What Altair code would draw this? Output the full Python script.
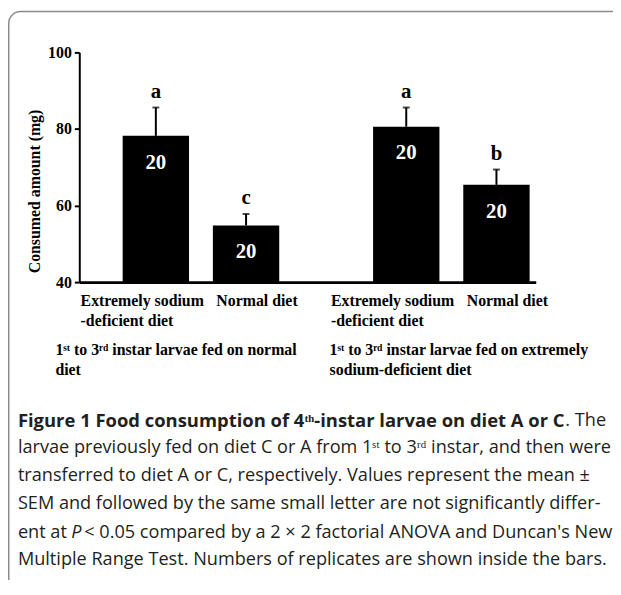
import altair as alt
import pandas as pd

# ---------------- data ----------------
groups = ["fed normal", "fed deficient"]
group_labels = [
    "1ˢᵗ to 3ʳᵈ instar larvae fed on normal\ndiet",
    "1ˢᵗ to 3ʳᵈ instar larvae fed on extremely\nsodium-deficient diet",
]
diets = ["Extremely sodium\n-deficient diet", "Normal diet"]
bar_group = ["fed normal", "fed normal", "fed deficient", "fed deficient"]
bar_diet = [diets[0], diets[1], diets[0], diets[1]]
means = [78.2, 54.8, 80.6, 65.4]
sems = [7.4, 3.0, 5.0, 4.0]
letters = ["a", "c", "a", "b"]
replicates = [20, 20, 20, 20]
y_ticks = [40, 60, 80, 100]
y_domain = [40, 100]
y_title = "Consumed amount (mg)"

caption_bold = "Figure 1 Food consumption of 4ᵗʰ-instar larvae on diet A or C"
caption_lines = [
    ". The",
    "larvae previously fed on diet C or A from 1ˢᵗ to 3ʳᵈ instar, and then were",
    "transferred to diet A or C, respectively. Values represent the mean ±",
    "SEM and followed by the same small letter are not significantly differ-",
    "ent at ",
    "P",
    "< 0.05 compared by a 2 × 2 factorial ANOVA and Duncan's New",
    "Multiple Range Test. Numbers of replicates are shown inside the bars.",
]

bars = pd.DataFrame({
    "group": bar_group,
    "diet": bar_diet,
    "mean": means,
    "sem": sems,
    "letter": letters,
    "n": replicates,
})
bars["upper"] = bars["mean"] + bars["sem"]
glab = pd.DataFrame({"group": groups, "label": group_labels})

SERIF = "Liberation Serif"
SANS = "Open Sans"

xscale = alt.Scale(domain=groups, paddingInner=0.3748, paddingOuter=0.0989, align=0.876)
offscale = alt.Scale(domain=diets, paddingInner=0.2645, paddingOuter=0)
X = alt.X("group:N", scale=xscale,
          axis=alt.Axis(labels=False, ticks=False, title=None,
                        domainWidth=3, domainColor="black"))
XO = alt.XOffset("diet:N", scale=offscale)
yscale = alt.Scale(domain=y_domain, nice=False, zero=False)
Y = alt.Y("mean:Q", scale=yscale,
          axis=alt.Axis(values=y_ticks, title=y_title, grid=False,
                        domainColor="black", domainWidth=2,
                        tickColor="black", tickWidth=2, tickSize=5,
                        labelPadding=3, labelFont=SERIF, labelFontSize=16,
                        labelFontWeight="bold", labelColor="black",
                        titleFont=SERIF, titleFontSize=16, titleFontWeight="bold",
                        titleColor="black", titleX=-45, titleY=140,
                        titleAngle=270, titleAlign="center", titleBaseline="middle"))

one = alt.Data(values=[{}])

border = alt.Chart(one).mark_rect(
    fill="white", fillOpacity=0, stroke="#8c8c8c", strokeWidth=1.5, cornerRadius=12
).encode(x=alt.value(-71.25), x2=alt.value(700), y=alt.value(-41.25), y2=alt.value(700))

base = alt.Chart(bars)
bar = base.mark_bar(color="black").encode(x=X, xOffset=XO, y=Y, y2=alt.datum(y_domain[0]))
err = base.mark_rule(color="black", strokeWidth=2).encode(
    x=X, xOffset=XO, y=alt.Y("mean:Q", scale=yscale), y2="upper:Q")
cap = base.mark_tick(color="black", size=7, thickness=2).encode(
    x=X, xOffset=XO, y=alt.Y("upper:Q", scale=yscale))
nums = base.mark_text(color="white", font=SERIF, fontSize=21, fontWeight="bold",
                      baseline="middle", dy=27).encode(
    x=X, xOffset=XO, y=alt.Y("mean:Q", scale=yscale), text="n:Q")
lets = base.mark_text(color="black", font=SERIF, fontSize=21, fontWeight="bold",
                      baseline="middle", dy=-16).encode(
    x=X, xOffset=XO, y=alt.Y("upper:Q", scale=yscale), text="letter:N")

diet_lab1 = base.transform_filter(alt.datum.diet == diets[0]).mark_text(
    font=SERIF, fontSize=16, fontWeight="bold", align="left", baseline="middle",
    lineBreak="\n", lineHeight=20, dx=-76, color="black").encode(
    x=X, xOffset=XO, y=alt.value(251), text="diet:N")
diet_lab2 = base.transform_filter(alt.datum.diet == diets[1]).mark_text(
    font=SERIF, fontSize=16, fontWeight="bold", align="left", baseline="middle",
    lineBreak="\n", lineHeight=20, dx=-30, color="black").encode(
    x=X, xOffset=XO, y=alt.value(251), text="diet:N")

group_dx = [-147, -123]
glayers = []
for g, dxv in zip(groups, group_dx):
    glayers.append(
        alt.Chart(glab).transform_filter(alt.datum.group == g).mark_text(
            font=SERIF, fontSize=16, fontWeight="bold", align="left", baseline="middle",
            lineBreak="\n", lineHeight=19.5, dx=dxv, color="black").encode(
            x=X, y=alt.value(301), text="label:N")
    )

CAP_SIZE = 18.3
CAP_COLOR = "#231f20"


def cap_text(txt, x, y, bold=False, italic=False, align="left", size=CAP_SIZE):
    kw = dict(text=txt, font=SANS, fontSize=size, align=align, baseline="middle",
              color=CAP_COLOR)
    if bold:
        kw["fontWeight"] = "bold"
    if italic:
        kw["fontStyle"] = "italic"
    return alt.Chart(one).mark_text(**kw).encode(x=alt.value(x), y=alt.value(y))


caps = [
    cap_text(caption_bold, -62, 372, bold=True, size=18.6),
    cap_text(caption_lines[0], 532, 372, align="right"),
    cap_text(caption_lines[1], -62, 400),
    cap_text(caption_lines[2], -62, 428),
    cap_text(caption_lines[3], -62, 456),
    cap_text(caption_lines[4], -62, 485),
    cap_text(caption_lines[5], -8, 485, italic=True),
    cap_text(caption_lines[6], 5, 485),
    cap_text(caption_lines[7], -62, 513),
]

chart = alt.layer(border, bar, err, cap, nums, lets, diet_lab1, diet_lab2, *glayers, *caps).properties(
    width=461, height=232,
    autosize=alt.AutoSizeParams(type="none"),
    padding={"left": 72, "top": 42, "right": 78, "bottom": 298},
    background="white",
).configure_view(strokeWidth=0)

chart.save("out.html", embed_options={"renderer": "svg", "actions": False})
